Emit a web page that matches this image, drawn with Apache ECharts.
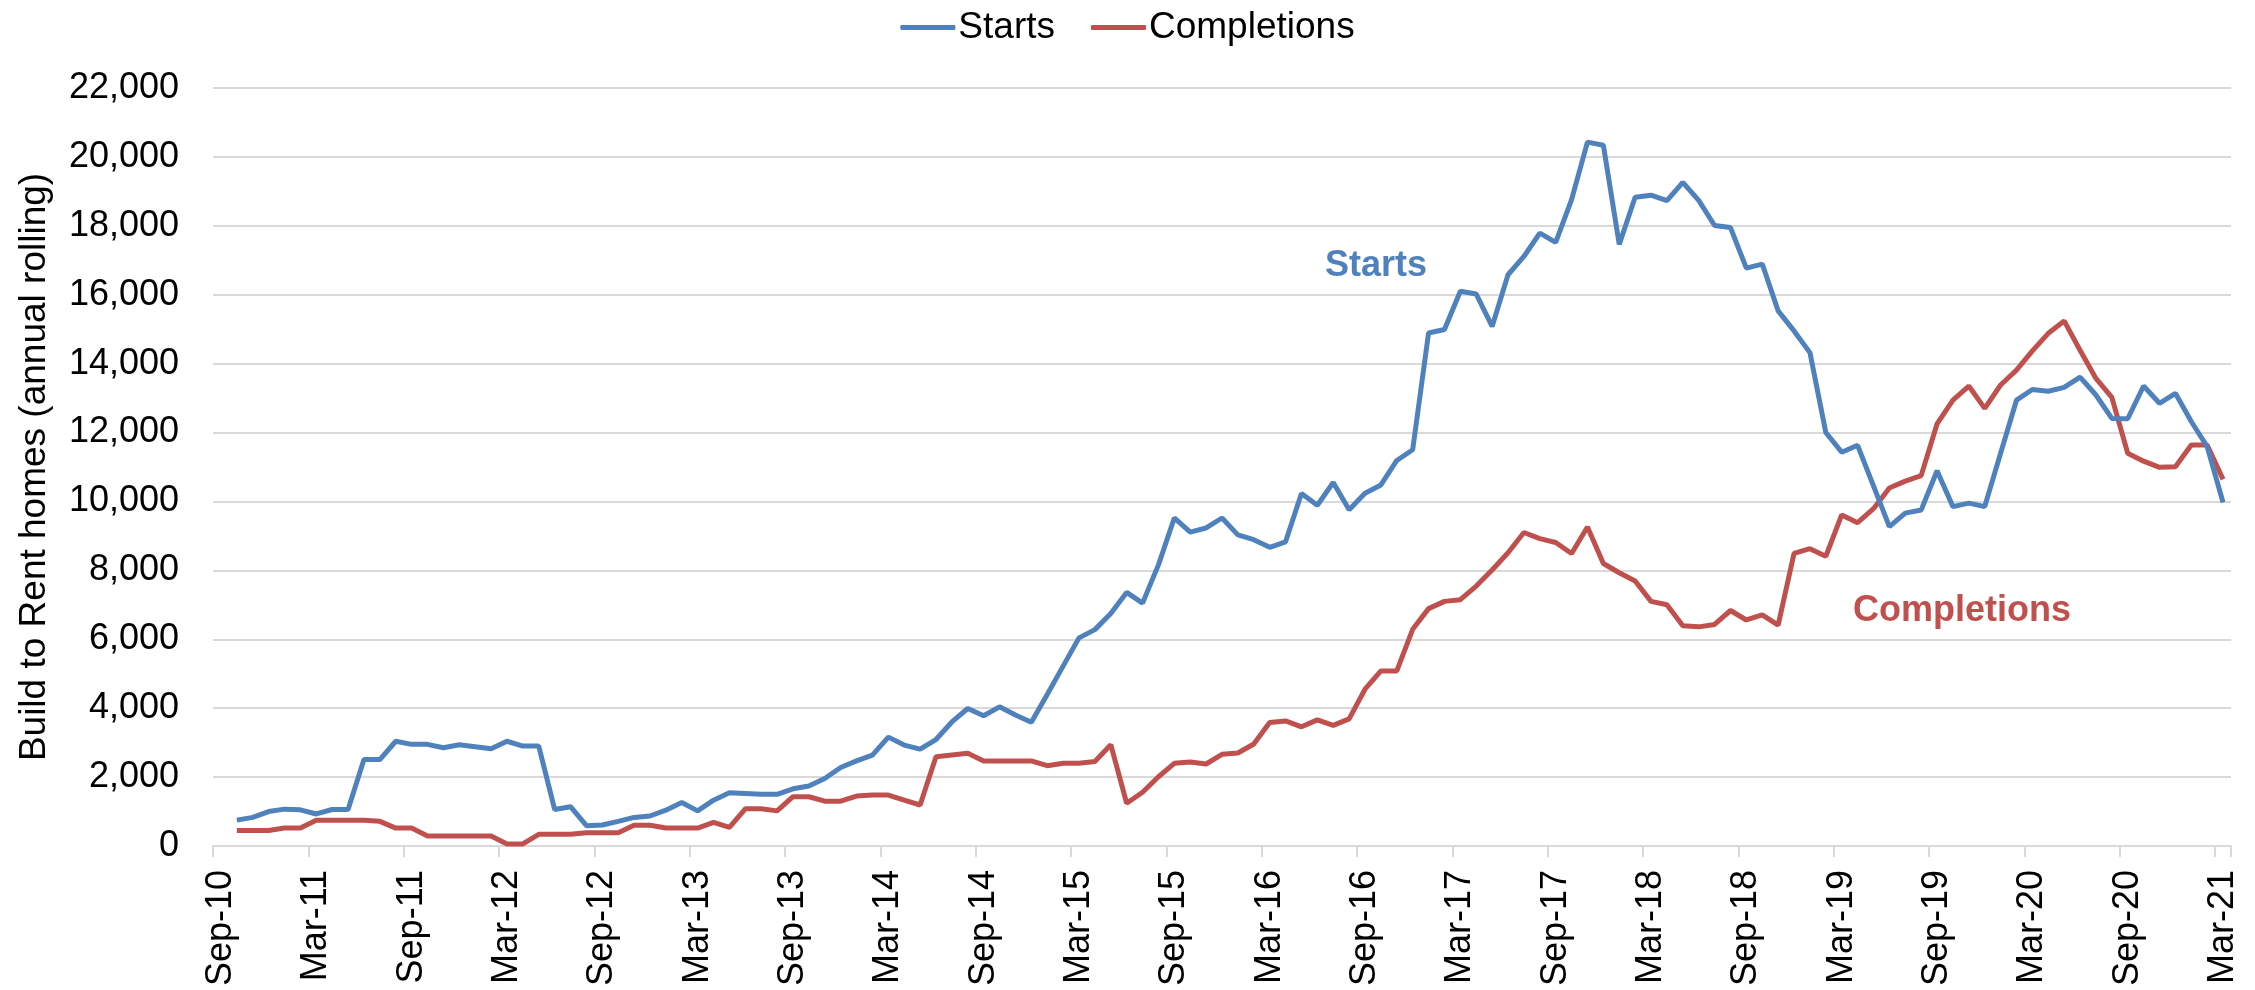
<!DOCTYPE html>
<html>
<head>
<meta charset="utf-8">
<script src="https://cdn.jsdelivr.net/npm/echarts@6/dist/echarts.min.js"></script>
<style>
html,body{margin:0;padding:0;background:#fff;}
#chart{width:2255px;height:990px;}
</style>
</head>
<body>
<div id="chart"></div>
<script>
const months = (function(){
  const names = ['Jan','Feb','Mar','Apr','May','Jun','Jul','Aug','Sep','Oct','Nov','Dec'];
  const out = [];
  let m = 8, y = 10;
  while (!(y === 21 && m === 3)) {
    out.push(names[m] + '-' + String(y).padStart(2,'0'));
    m++; if (m === 12) { m = 0; y++; }
  }
  return out;
})();

const starts = [null,
  750, 830, 1000, 1070, 1050, 930, 1060, 1060, 2510, 2510, 3040,
  2950, 2950, 2850, 2940, 2880, 2820, 3040, 2900, 2900, 1060, 1140, 590,
  610, 715, 830, 870, 1040, 1260, 1020, 1330, 1545, 1525, 1500, 1500,
  1660, 1740, 1960, 2280, 2470, 2640, 3160, 2930, 2810, 3090, 3600, 3990,
  3780, 4040, 3800, 3590, 4400, 5220, 6040, 6280, 6750, 7360, 7050, 8160,
  9520, 9110, 9230, 9520, 9030, 8890, 8670, 8830, 10230, 9890, 10550, 9760,
  10240, 10480, 11190, 11500, 14890, 14990, 16100, 16020, 15080, 16580, 17110, 17790,
  17520, 18760, 20430, 20340, 17460, 18830, 18890, 18730, 19260, 18740, 18010, 17950,
  16770, 16890, 15530, 14950, 14320, 12000, 11430, 11630, 10450, 9270, 9660, 9750,
  10890, 9850, 9950, 9850, 11400, 12940, 13250, 13200, 13310, 13610, 13090, 12410,
  12400, 13350, 12850, 13140, 12320, 11590, 9970
];

const completions = [null,
  450, 450, 450, 520, 520, 745, 745, 745, 745, 715, 520,
  520, 290, 290, 290, 290, 290, 60, 60, 340, 340, 340, 385,
  385, 385, 600, 600, 520, 520, 520, 686, 540, 1080, 1080, 1020,
  1430, 1430, 1300, 1300, 1450, 1480, 1480, 1330, 1190, 2590, 2640, 2690,
  2470, 2470, 2470, 2470, 2330, 2400, 2400, 2450, 2940, 1240, 1560, 2010,
  2400, 2435, 2380, 2660, 2700, 2960, 3585, 3630, 3460, 3660, 3500, 3690,
  4550, 5080, 5080, 6290, 6890, 7100, 7150, 7545, 8010, 8510, 9100, 8920,
  8810, 8490, 9260, 8200, 7930, 7690, 7100, 7000, 6390, 6360, 6430, 6835,
  6560, 6710, 6410, 8490, 8630, 8410, 9610, 9385, 9790, 10390, 10590, 10750,
  12250, 12940, 13350, 12700, 13380, 13810, 14370, 14880, 15240, 14390, 13570, 13020,
  11400, 11170, 10990, 11010, 11640, 11640, 10640
];

const seriesNames = ['Starts', 'Completions'];
const yAxisTitle = 'Build to Rent homes (annual rolling)';

const BLUE = '#4F81BD';
const RED = '#C0504D';
const FONT = '"Liberation Sans", Arial, sans-serif';

const chart = echarts.init(document.getElementById('chart'), null, {renderer: 'canvas'});
chart.setOption({
  backgroundColor: '#ffffff',
  animation: false,
  textStyle: {fontFamily: FONT},
  legend: {
    data: seriesNames,
    top: 4,
    left: 'center',
    itemWidth: 55,
    itemHeight: 5,
    itemGap: 36,
    icon: 'roundRect',
    textStyle: {fontSize: 37, color: '#000', fontFamily: FONT, padding: [0,0,0,-2]}
  },
  grid: {left: 213, right: 24, top: 88, bottom: 144, containLabel: false},
  xAxis: {
    type: 'category',
    data: months,
    boundaryGap: true,
    axisLine: {show: true, lineStyle: {color: '#d9d9d9', width: 2}},
    axisTick: {show: true, interval: 5, length: 11, lineStyle: {color: '#d9d9d9', width: 2}},
    axisLabel: {interval: 5, rotate: 90, margin: 24, fontSize: 36, color: '#000', fontFamily: FONT},
    splitLine: {show: false}
  },
  yAxis: {
    type: 'value',
    min: 0, max: 22000, interval: 2000,
    name: yAxisTitle,
    nameLocation: 'middle',
    nameRotate: 90,
    nameGap: 160,
    nameTextStyle: {fontSize: 37, color: '#000', fontFamily: FONT},
    axisLine: {show: false},
    axisTick: {show: false},
    axisLabel: {
      fontSize: 36, color: '#000', margin: 34, fontFamily: FONT,
      formatter: v => v.toLocaleString('en-US')
    },
    splitLine: {show: true, lineStyle: {color: '#d9d9d9', width: 2}}
  },
  series: [
    {
      name: seriesNames[0], type: 'line', data: starts, symbol: 'none',
      lineStyle: {color: BLUE, width: 5}, itemStyle: {color: BLUE}, z: 3
    },
    {
      name: seriesNames[1], type: 'line', data: completions, symbol: 'none',
      lineStyle: {color: RED, width: 5}, itemStyle: {color: RED}, z: 2
    }
  ],
  graphic: [
    {type: 'text', left: 1325, top: 248, style: {text: 'Starts', fill: BLUE, font: 'bold 36px ' + FONT}},
    {type: 'text', left: 1853, top: 593, style: {text: 'Completions', fill: RED, font: 'bold 36px ' + FONT}}
  ]
});
</script>
</body>
</html>
